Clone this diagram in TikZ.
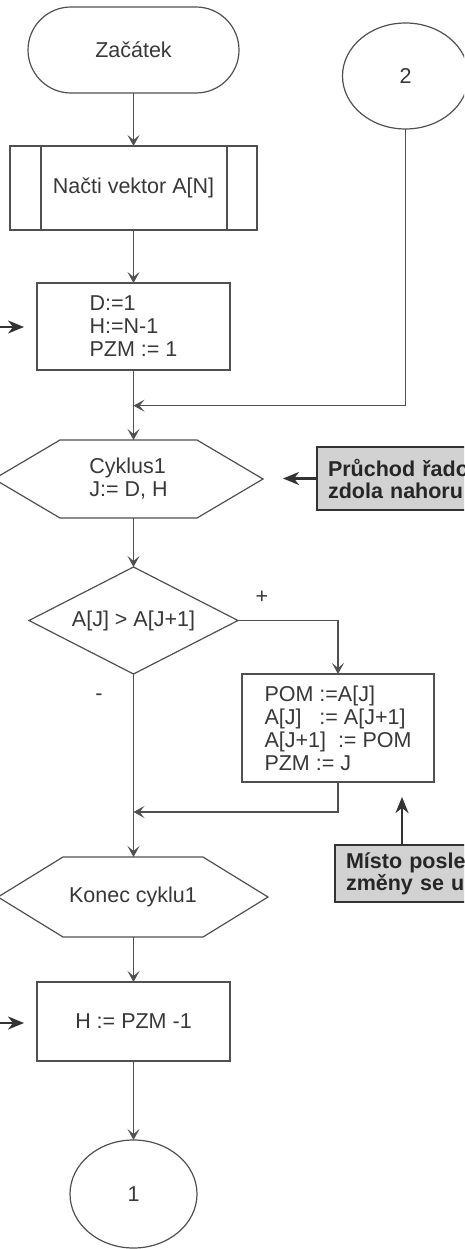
\documentclass[tikz,border=0pt]{standalone}
\usepackage{fontspec}
\setmainfont{Liberation Sans}
\usetikzlibrary{arrows.meta,shapes.geometric,shapes.misc}
\definecolor{ln}{HTML}{505050}
\definecolor{tx}{HTML}{383838}
\definecolor{dk}{HTML}{333333}
\definecolor{notefill}{HTML}{D2D2D2}
\begin{document}
\begin{tikzpicture}[x=1pt,y=-1pt,
  every node/.style={font=\fontsize{21.5pt}{23pt}\selectfont, text=tx, inner sep=0pt, outer sep=0pt},
  box/.style={draw=ln, line width=1.2pt, rectangle, align=left},
  shp/.style={draw=ln, line width=1.2pt},
  flow/.style={draw=ln, line width=1.2pt, -{Stealth[length=11pt,width=12pt,inset=5pt]}},
  line/.style={draw=ln, line width=1.2pt},
  bigarrow/.style={draw=dk, line width=2.2pt, -{Stealth[length=16pt,width=13pt,inset=5pt]}},
  note/.style={draw=dk, line width=2.2pt, fill=notefill, font=\bfseries\fontsize{21.5pt}{22pt}\selectfont, align=left, anchor=north west, inner xsep=11pt, text=black!85}
]
\useasboundingbox (0,0) rectangle (464,1249);
\clip (0,0) rectangle (464,1249);
\fill[white] (0,0) rectangle (464,1249);

% nodes
\node[shp, rounded rectangle, minimum width=211pt, minimum height=86pt] (start) at (133.5,50) {Začátek};
\node[shp, ellipse, minimum width=126pt, minimum height=106pt] (c2) at (405.5,76) {2};
\node[box, minimum width=247pt, minimum height=84pt] (read) at (133.5,188) {Načti vektor A[N]};
\draw[line] ([xshift=31pt]read.north west) -- ([xshift=31pt]read.south west);
\draw[line] ([xshift=-30pt]read.north east) -- ([xshift=-30pt]read.south east);
\node[box, minimum width=193pt, minimum height=87pt] (init) at (133.5,326.5) {D:=1\\H:=N-1\\PZM := 1};

\node[minimum width=137pt, minimum height=78pt, align=left] (cyc) at (128.5,479) {Cyklus1\\J:= D, H};
\draw[line] (cyc.north west) -- (cyc.north east) -- ([xshift=66pt]cyc.east) -- (cyc.south east) -- (cyc.south west) -- ([xshift=-66pt]cyc.west) -- cycle;

\node[shp, diamond, aspect=1.95, minimum width=209pt, minimum height=107pt] (cond) at (133.5,620.5) {A[J] > A[J+1]};
\node (plus) at (262,597) {+};
\node (minus) at (99,697) {-};

\node[box, minimum width=192pt, minimum height=108pt] (swap) at (338,728) {POM :=A[J]\\A[J]~~~:= A[J+1]\\A[J+1]~~:= POM\\PZM := J};

\node[minimum width=140pt, minimum height=80pt] (endc) at (133,897) {Konec cyklu1};
\draw[line] (endc.north west) -- (endc.north east) -- ([xshift=65pt]endc.east) -- (endc.south east) -- (endc.south west) -- ([xshift=-65pt]endc.west) -- cycle;

\node[box, minimum width=193pt, minimum height=79pt] (hb) at (133.5,1021.5) {H := PZM -1};
\node[shp, ellipse, minimum width=127pt, minimum height=108pt] (c1) at (133.5,1194) {1};

\node[note, minimum height=63pt, text width=170pt] (n1) at (317,447) {Průchod řadou\\zdola nahoru};
\node[note, minimum height=57pt, text width=170pt] (n2) at (335,845) {Místo poslední\\změny se uloží};

% connectors
\coordinate (m1) at (133.5,405.7);
\coordinate (m2) at (133.5,812);
\draw[flow] (start.south) -- (read.north);
\draw[flow] (read.south) -- (init.north);
\draw[flow] (init.south) -- (init.south |- cyc.north);
\draw[flow] (c2.south) |- (m1);
\draw[flow] (init.south |- cyc.south) -- (cond.north);
\draw[flow] (cond.east) -| (swap.north);
\draw[flow] (cond.south) -- (cond.south |- endc.north);
\draw[flow] (swap.south) |- (m2);
\draw[flow] (hb.north |- endc.south) -- (hb.north);
\draw[flow] (hb.south) -- (c1.north);

\coordinate (t1) at (283,479);
\draw[bigarrow] (n1.west) -- (t1 |- n1.west);
\coordinate (t2) at (402,797);
\draw[bigarrow] (n2.north -| t2) -- (t2);
\coordinate (s1) at (-3,327);
\coordinate (e1) at (24,327);
\draw[bigarrow] (s1) -- (e1);
\coordinate (s2) at (-3,1023);
\coordinate (e2) at (24,1023);
\draw[bigarrow] (s2) -- (e2);
\end{tikzpicture}
\end{document}
